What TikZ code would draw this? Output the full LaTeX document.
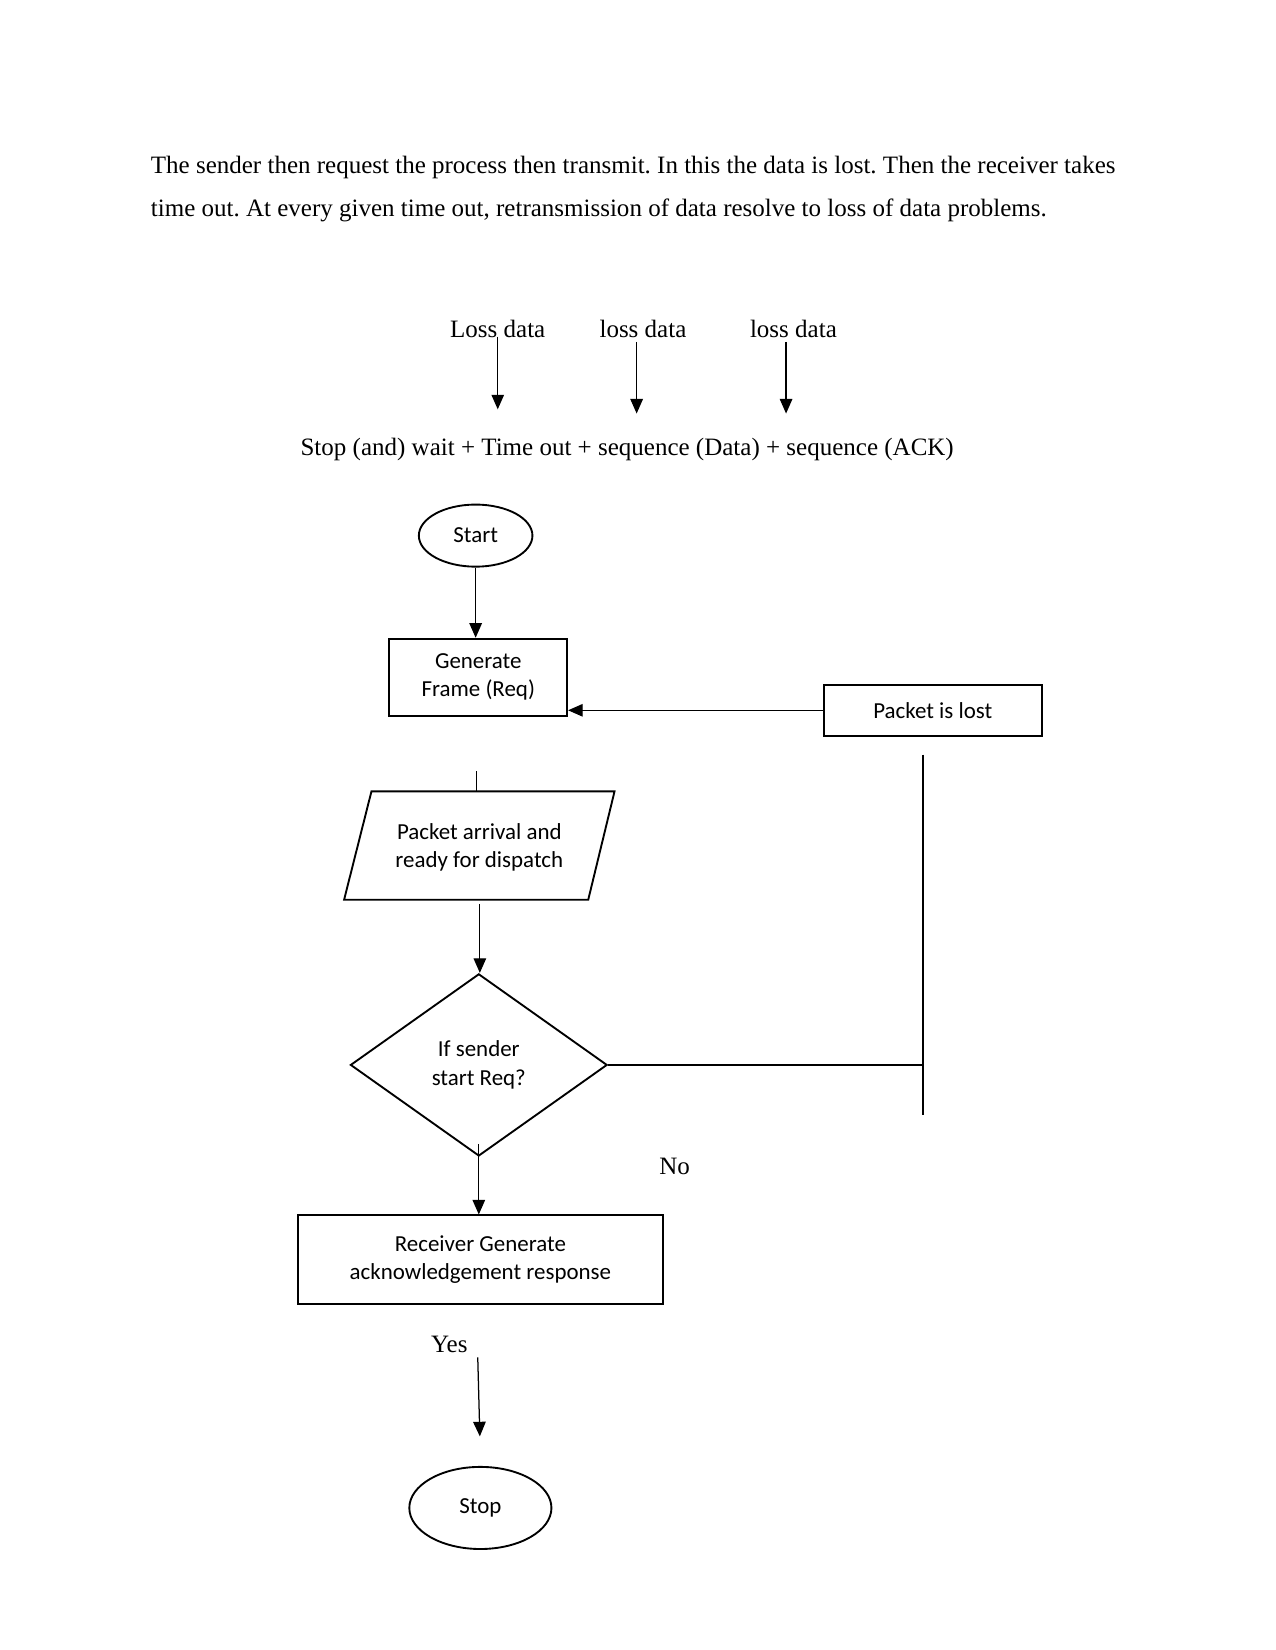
\documentclass[tikz,border=0pt]{standalone}
\usepackage{fontspec}
\setmainfont{Liberation Serif}
\newfontfamily\calfont{Carlito}
\usetikzlibrary{arrows.meta,shapes.geometric}
\frenchspacing
\begin{document}
\begin{tikzpicture}[x=0.50495pt,y=-0.50495pt,
  serif/.style={font=\fontsize{12pt}{14pt}\selectfont, inner sep=0pt},
  lab/.style={font=\calfont\fontsize{11pt}{13.5pt}\selectfont, align=center, inner sep=0pt},
  shp/.style={draw, line width=0.9pt, inner sep=0pt},
  conn/.style={line width=0.6pt},
  arr/.style={line width=0.6pt, -{Triangle[length=7pt,width=6pt]}}
]
\useasboundingbox (0,0) rectangle (1212,1568);

% paragraph
\node[serif, anchor=west] (p1) at (143,159) {The sender then request the process then transmit. In this the data is lost. Then the receiver takes};
\node[serif, anchor=west] (p2) at (143,200) {time out. At every given time out, retransmission of data resolve to loss of data problems.};

% loss data labels
\node[serif] (l1) at (473,313) {Loss data};
\node[serif] (l2) at (611,313) {loss data};
\node[serif] (l3) at (754,313) {loss data};
\coordinate (a1s) at (473,320); \coordinate (a1e) at (473,389);
\coordinate (a2s) at (605,325); \coordinate (a2e) at (605,393);
\coordinate (a3s) at (747,325); \coordinate (a3e) at (747,393);
\draw[arr] (a1s) -- (a1e);
\draw[arr] (a2s) -- (a2e);
\draw[arr] (a3s) -- (a3e);

\node[serif] (formula) at (596,427) {Stop (and) wait + Time out + sequence (Data) + sequence (ACK)};

% flowchart
\node[shp, ellipse, minimum width=54.5pt, minimum height=29.8pt, lab] (start) at (452,509) {Start};
\node[shp, rectangle, minimum width=85.3pt, minimum height=36.9pt, lab] (gen) at (454.5,643.5) {Generate\\Frame (Req)};
\node[shp, rectangle, minimum width=104.5pt, minimum height=24.7pt, lab] (lost) at (886.5,675) {Packet is lost};

\draw[arr] (start.south) -- (start.south |- gen.north);
\draw[arr] (lost.west) -- (lost.west -| gen.east);

% parallelogram
\coordinate (paTL) at (353,752); \coordinate (paTR) at (584,752);
\coordinate (paBR) at (559,855); \coordinate (paBL) at (327,855);
\draw[line width=0.9pt] (paTL) -- (paTR) -- (paBR) -- (paBL) -- cycle;
\node[lab] (pa) at (455.5,805) {Packet arrival and\\ready for dispatch};
\coordinate (gl) at (453,733); \coordinate (paT) at (453,752);
\draw[conn] (gl) -- (paT);

% diamond
\node[shp, diamond, minimum width=123.2pt, minimum height=87.4pt, lab] (dec) at (455,1012) {If sender\\start Req?};
\coordinate (pas) at (456,859);
\draw[arr] (pas) -- (pas |- dec.north);

\coordinate (rv) at (877,1012);
\coordinate (vt) at (877,717); \coordinate (vb) at (877,1060);
\draw[conn] (dec.east) -- (rv);
\draw[conn] (vt) -- (vb);

\node[serif] (no) at (641,1108) {No};

\node[shp, rectangle, minimum width=175.2pt, minimum height=42.4pt, lab] (rec) at (456.5,1197) {Receiver Generate\\acknowledgement response};
\coordinate (ds) at (455,1087);
\draw[arr] (ds) -- (ds |- rec.north);

\node[serif] (yes) at (427,1278) {Yes};
\coordinate (ys) at (454,1290); \coordinate (ye) at (456,1365);
\draw[arr] (ys) -- (ye);

\node[shp, ellipse, minimum width=68.2pt, minimum height=39.4pt, lab] (stop) at (456.5,1433) {Stop};
\end{tikzpicture}
\end{document}
